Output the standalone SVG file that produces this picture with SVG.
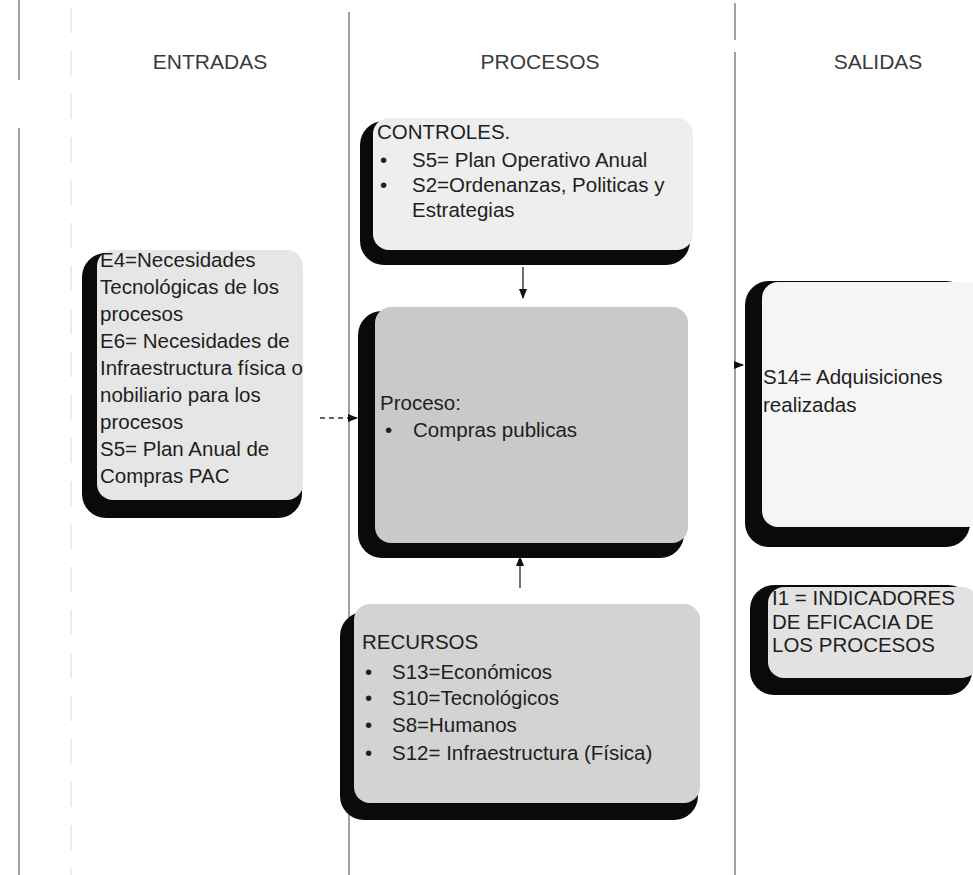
<svg xmlns="http://www.w3.org/2000/svg" width="973" height="875" viewBox="0 0 973 875">
<defs>
<style>
.hdr{font-family:"Liberation Sans",Arial,sans-serif;font-size:21px;fill:#3a3a3a;text-anchor:middle}
.t{font-family:"Liberation Sans",Arial,sans-serif;font-size:20.5px;fill:#1e1e1e}
.shadow{fill:#0a0a0a}
.lane{stroke:#8a8a8a;stroke-width:1.6;fill:none}
.faint{stroke:#e6e6e6;stroke-width:1.5;fill:none;stroke-dasharray:25 18}
.conn{stroke:#333;stroke-width:1.4;fill:none}
</style>
<marker id="ah" markerWidth="10" markerHeight="10" refX="9" refY="5" orient="auto" markerUnits="userSpaceOnUse">
<path d="M0,1 L10,5 L0,9 Z" fill="#111"/>
</marker>
</defs>
<rect width="973" height="875" fill="#ffffff"/>

<g id="lanes">
<line class="lane" x1="19" y1="0" x2="19" y2="80"/>
<line class="lane" x1="19" y1="128" x2="19" y2="875"/>
<line class="faint" x1="71" y1="8" x2="71" y2="875"/>
<line class="lane" x1="349" y1="12" x2="349" y2="875"/>
<line class="lane" x1="735" y1="3" x2="735" y2="40"/>
<line class="lane" x1="735" y1="52" x2="735" y2="875"/>
</g>

<g id="headers">
<text class="hdr" x="210" y="69">ENTRADAS</text>
<text class="hdr" x="540" y="69">PROCESOS</text>
<text class="hdr" x="878" y="69">SALIDAS</text>
</g>

<g id="entradas">
<rect class="shadow" x="82" y="253" width="220" height="265" rx="24"/>
<rect x="97" y="250" width="206" height="250" rx="16" fill="#e6e6e6"/>
<text class="t" x="100" y="267">E4=Necesidades</text>
<text class="t" x="100" y="294">Tecnológicas de los</text>
<text class="t" x="100" y="321">procesos</text>
<text class="t" x="100" y="348">E6= Necesidades de</text>
<text class="t" x="100" y="375">Infraestructura física o</text>
<text class="t" x="100" y="402">nobiliario para los</text>
<text class="t" x="100" y="429">procesos</text>
<text class="t" x="100" y="456">S5= Plan Anual de</text>
<text class="t" x="100" y="483">Compras PAC</text>
</g>

<g id="controles">
<rect class="shadow" x="360" y="121" width="330" height="144" rx="24"/>
<rect x="373" y="118" width="320" height="132" rx="16" fill="#eeeeee"/>
<text class="t" x="377" y="139">CONTROLES.</text>
<text class="t" x="380" y="167">•</text>
<text class="t" x="412" y="167">S5= Plan Operativo Anual</text>
<text class="t" x="380" y="192">•</text>
<text class="t" x="412" y="192">S2=Ordenanzas, Politicas y</text>
<text class="t" x="412" y="217">Estrategias</text>
</g>

<g id="proceso">
<rect class="shadow" x="358" y="311" width="326" height="247" rx="24"/>
<rect x="375" y="307" width="313" height="236" rx="16" fill="#c9c9c9"/>
<text class="t" x="380" y="410">Proceso:</text>
<text class="t" x="385" y="437">•</text>
<text class="t" x="413" y="437">Compras publicas</text>
</g>

<g id="recursos">
<rect class="shadow" x="340" y="612" width="358" height="208" rx="24"/>
<rect x="354" y="604" width="346" height="199" rx="16" fill="#d3d3d3"/>
<text class="t" x="362" y="649">RECURSOS</text>
<text class="t" x="365" y="679">•</text>
<text class="t" x="392" y="679">S13=Económicos</text>
<text class="t" x="365" y="705">•</text>
<text class="t" x="392" y="705">S10=Tecnológicos</text>
<text class="t" x="365" y="732">•</text>
<text class="t" x="392" y="732">S8=Humanos</text>
<text class="t" x="365" y="760">•</text>
<text class="t" x="392" y="760">S12= Infraestructura (Física)</text>
</g>

<g id="salida-adquisiciones">
<rect class="shadow" x="745" y="281" width="225" height="266" rx="24"/>
<rect x="762" y="282" width="220" height="245" rx="16" fill="#f5f5f5"/>
<text class="t" x="763" y="384">S14= Adquisiciones</text>
<text class="t" x="763" y="412">realizadas</text>
</g>

<g id="salida-indicadores">
<rect class="shadow" x="750" y="585" width="222" height="110" rx="24"/>
<rect x="768" y="587" width="210" height="91" rx="16" fill="#e2e2e2"/>
<text class="t" x="772" y="605">I1 = INDICADORES</text>
<text class="t" x="772" y="629">DE EFICACIA DE</text>
<text class="t" x="772" y="652">LOS PROCESOS</text>
</g>

<g id="connectors">
<line class="conn" x1="320" y1="418" x2="357" y2="418" stroke-dasharray="5 4" marker-end="url(#ah)"/>
<line class="conn" x1="523" y1="267" x2="523" y2="298" marker-end="url(#ah)"/>
<line class="conn" x1="520" y1="588" x2="520" y2="557" marker-end="url(#ah)"/>
<line class="conn" x1="736" y1="365" x2="743" y2="365" marker-end="url(#ah)"/>
</g>
</svg>
